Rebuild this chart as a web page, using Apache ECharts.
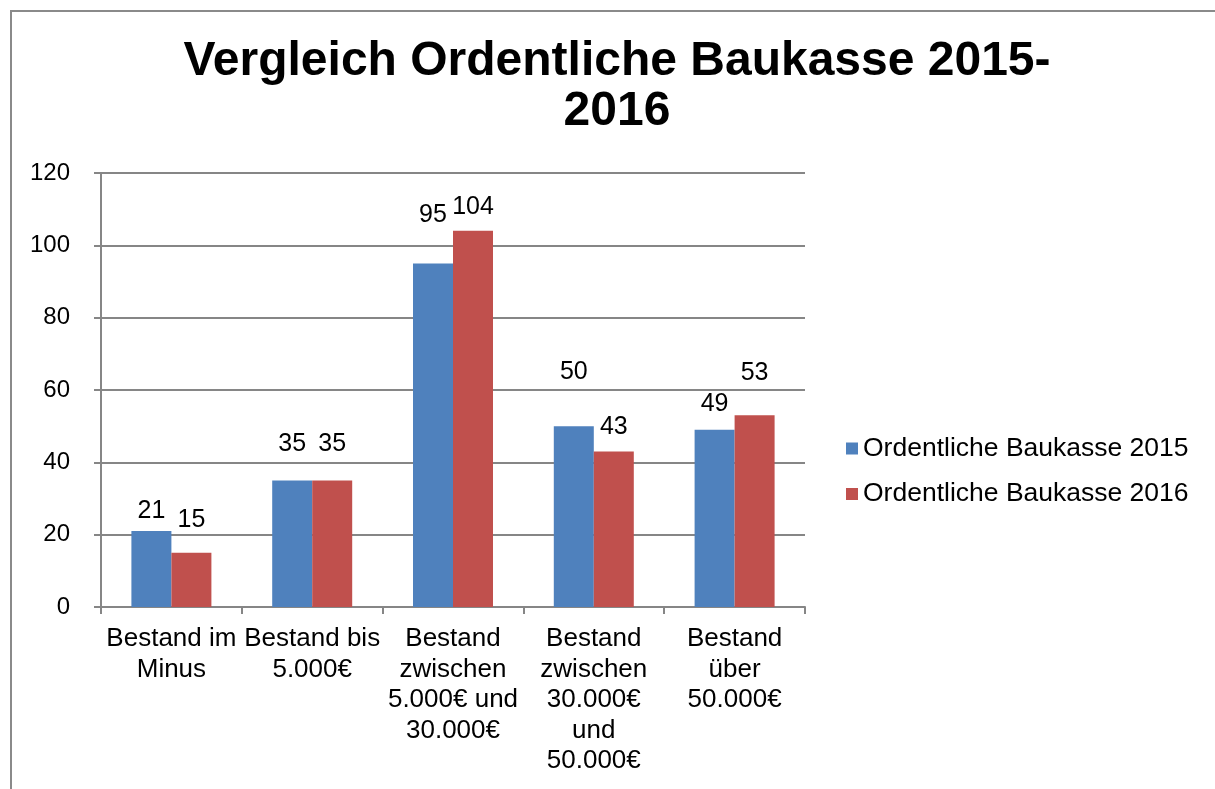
<!DOCTYPE html>
<html>
<head>
<meta charset="utf-8">
<script src="https://cdn.jsdelivr.net/npm/echarts@6/dist/echarts.min.js"></script>
<style>
  body { margin: 0; background: #fff; }
  #frame { position: absolute; left: 10px; top: 10px; width: 1215px; height: 789px; border-left: 2px solid #8a8a8a; border-top: 2px solid #8a8a8a; }
  #main { position: absolute; left: 0; top: 0; width: 1215px; height: 789px; }
</style>
</head>
<body>
<div id="frame"></div>
<div id="main"></div>
<script>
// Kategorien (Zeilenumbrueche wie im Original)
const categories = [
  'Bestand im\nMinus',
  'Bestand bis\n5.000€',
  'Bestand\nzwischen\n5.000€ und\n30.000€',
  'Bestand\nzwischen\n30.000€\nund\n50.000€',
  'Bestand\nüber\n50.000€'
]
const seriesNames = ['Ordentliche Baukasse 2015', 'Ordentliche Baukasse 2016']
const values2015 = [21, 35, 95, 50, 49]
const values2016 = [15, 35, 104, 43, 53]
const yTicks = { min: 0, max: 120, interval: 20 }

// Abstand der Beschriftung ueber dem Balken (wie Excel sie verschoben hat)
const labelLift2015 = [7, 24, 36, 42, 13]
const labelLift2016 = [20, 24, 11, 12, 30]

const font = "'Liberation Sans', Arial, sans-serif"

function toData(vals, lifts) {
  return vals.map((v, i) => ({ value: v, label: { distance: lifts[i] } }))
}

let myChart = echarts.init(document.getElementById('main'))
let option = {
  animation: false,
  textStyle: { fontFamily: font },
  color: ['#4F81BD', '#C0504D'],
  title: {
    text: 'Vergleich Ordentliche Baukasse 2015-\n2016',
    left: 617,
    top: 37,
    padding: 0,
    textAlign: 'center',
    textStyle: { fontFamily: font, fontSize: 48, fontWeight: 'bold', lineHeight: 50, color: '#000' }
  },
  legend: {
    orient: 'vertical',
    left: 841,
    top: 430,
    icon: 'rect',
    itemWidth: 12,
    itemHeight: 12,
    itemGap: 18.5,
    itemTextGap: 9,
    data: seriesNames,
    textStyle: { fontFamily: font, fontSize: 26.5, lineHeight: 26.5, color: '#000' }
  },
  grid: {
    left: 101,
    right: 410,
    top: 173,
    bottom: 182,
    outerBoundsMode: 'none'
  },
  xAxis: {
    type: 'category',
    data: categories,
    axisLine: { lineStyle: { color: '#868686', width: 2 } },
    axisTick: { show: true, length: 7, lineStyle: { color: '#868686', width: 2 } },
    axisLabel: { interval: 0, fontFamily: font, fontSize: 26, lineHeight: 30.5, margin: 17, color: '#000' }
  },
  yAxis: {
    type: 'value',
    min: yTicks.min,
    max: yTicks.max,
    interval: yTicks.interval,
    axisLine: { show: true, lineStyle: { color: '#868686', width: 2 } },
    axisTick: { show: true, length: 7, lineStyle: { color: '#868686', width: 2 } },
    axisLabel: { fontFamily: font, fontSize: 24, margin: 31, color: '#000' },
    splitLine: { lineStyle: { color: '#868686', width: 2 } }
  },
  series: [
    {
      name: seriesNames[0],
      type: 'bar',
      barWidth: 40,
      barGap: '0%',
      label: { show: true, position: 'top', fontFamily: font, fontSize: 25, color: '#000' },
      data: toData(values2015, labelLift2015)
    },
    {
      name: seriesNames[1],
      type: 'bar',
      barWidth: 40,
      barGap: '0%',
      label: { show: true, position: 'top', fontFamily: font, fontSize: 25, color: '#000' },
      data: toData(values2016, labelLift2016)
    }
  ]
}
myChart.setOption(option)
</script>
</body>
</html>
